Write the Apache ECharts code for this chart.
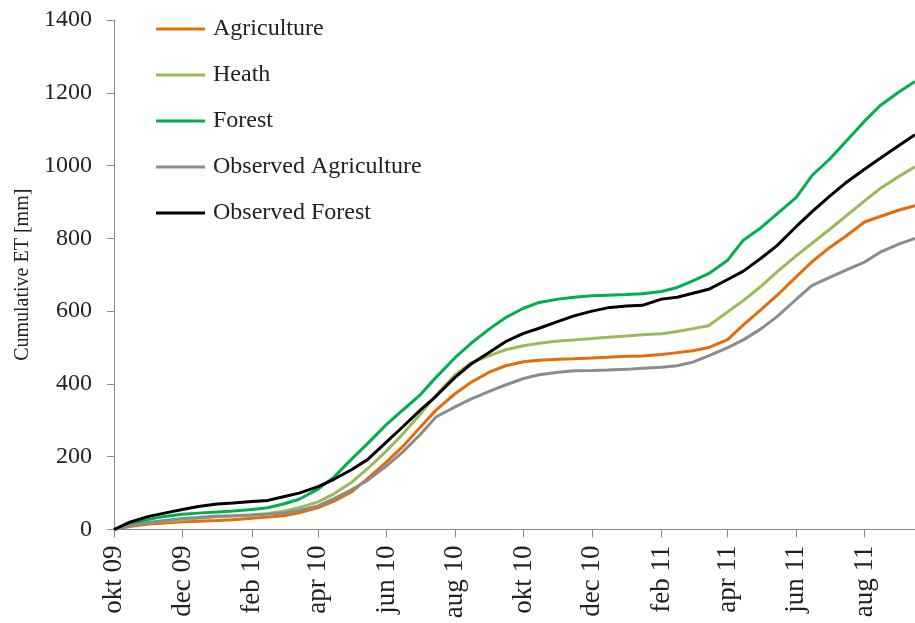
<!DOCTYPE html>
<html>
<head>
<meta charset="utf-8">
<script src="https://cdn.jsdelivr.net/npm/echarts@6/dist/echarts.min.js"></script>
<style>
  html, body { margin: 0; padding: 0; background: #fff; }
  #chart { width: 915px; height: 623px; }
</style>
</head>
<body>
<div id="chart"></div>
<script>
// Sample dates (1st and 15th of each month)
const sampleDates = [
  '2009-10-01','2009-10-15','2009-11-01','2009-11-15','2009-12-01','2009-12-15',
  '2010-01-01','2010-01-15','2010-02-01','2010-02-15','2010-03-01','2010-03-15',
  '2010-04-01','2010-04-15','2010-05-01','2010-05-15','2010-06-01','2010-06-15',
  '2010-07-01','2010-07-15','2010-08-01','2010-08-15','2010-09-01','2010-09-15',
  '2010-10-01','2010-10-15','2010-11-01','2010-11-15','2010-12-01','2010-12-15',
  '2011-01-01','2011-01-15','2011-02-01','2011-02-15','2011-03-01','2011-03-15',
  '2011-04-01','2011-04-15','2011-05-01','2011-05-15','2011-06-01','2011-06-15',
  '2011-07-01','2011-07-15','2011-08-01','2011-08-15','2011-09-01','2011-09-15'
];

// Cumulative evapotranspiration [mm]
const agriculture = [0,8,15,18,21,23,
  25,27,31,34,38,46,60,78,104,140,186,227,281,328,373,404,433,450,461,465,468,469,471,473,
  476,477,481,486,491,500,522,562,605,643,694,735,775,805,845,860,878,890];
const heath = [0,10,19,23,27,31,
  35,37,40,44,50,60,76,98,130,167,216,261,317,369,425,458,478,494,505,512,518,521,525,528,
  532,535,538,544,552,560,598,629,669,708,752,786,825,860,903,937,971,997];
const forest = [0,14,28,36,42,45,
  48,51,55,60,70,83,111,144,194,236,289,327,370,418,472,511,552,582,608,624,633,638,642,644,
  646,648,654,665,683,703,740,795,830,867,912,972,1018,1065,1122,1165,1203,1231];
const observedAgriculture = [0,10,19,25,30,33,
  37,38,40,42,45,52,65,85,110,135,175,212,261,309,337,358,380,397,415,425,432,436,437,438,
  440,443,446,450,460,477,500,521,552,585,632,670,693,712,735,762,785,800];
const observedForest = [0,20,36,45,55,63,
  70,73,77,80,90,100,118,138,165,192,241,281,328,366,418,454,488,516,539,553,572,587,600,609,
  614,616,633,638,649,660,687,710,746,780,832,873,916,952,990,1020,1056,1085];

// Axis tick dates and their labels
const tickDates = ['2009-10-01','2009-12-01','2010-02-01','2010-04-01','2010-06-01','2010-08-01',
  '2010-10-01','2010-12-01','2011-02-01','2011-04-01','2011-06-01','2011-08-01'];
const tickLabels = ['okt 09','dec 09','feb 10','apr 10','jun 10','aug 10',
  'okt 10','dec 10','feb 11','apr 11','jun 11','aug 11'];

const seriesNames = ['Agriculture','Heath','Forest','Observed Agriculture','Observed Forest'];
const seriesColors = ['#E46C0A','#9BBB59','#00B050','#8C8C8C','#000000'];
const seriesValues = [agriculture, heath, forest, observedAgriculture, observedForest];

// Daily category axis from first to last sample date
const days = [];
{
  const start = Date.UTC(2009, 9, 1), end = Date.UTC(2011, 8, 15);
  for (let t = start; t <= end; t += 86400000) {
    days.push(new Date(t).toISOString().slice(0, 10));
  }
}
const tickSet = new Set(tickDates);
const isTick = (i, v) => tickSet.has(v);

const serif = "'Liberation Serif', 'Times New Roman', serif";

const chart = echarts.init(document.getElementById('chart'), null, { renderer: 'canvas' });
chart.setOption({
  backgroundColor: '#ffffff',
  animation: false,
  grid: { left: 114, right: 0, top: 20, bottom: 93.5, containLabel: false },
  legend: {
    orient: 'vertical',
    left: 151,
    top: 12,
    icon: 'rect',
    itemWidth: 49,
    itemHeight: 3,
    itemGap: 22,
    textStyle: { fontFamily: serif, fontSize: 24, color: '#222', lineHeight: 24, padding: [0, 0, 0, 3] },
    data: seriesNames
  },
  xAxis: {
    type: 'category',
    data: days,
    boundaryGap: false,
    axisLine: { lineStyle: { color: '#8a8a8a', width: 1 } },
    axisTick: { show: true, interval: isTick, inside: false, length: 8, lineStyle: { color: '#8a8a8a' } },
    axisLabel: {
      interval: isTick,
      rotate: 90,
      margin: 16,
      fontFamily: serif,
      fontSize: 27,
      color: '#222',
      formatter: v => tickLabels[tickDates.indexOf(v)] || ''
    },
    splitLine: { show: false }
  },
  yAxis: {
    type: 'value',
    min: 0,
    max: 1400,
    interval: 200,
    name: 'Cumulative ET [mm]',
    nameLocation: 'middle',
    nameGap: 76,
    nameTextStyle: { fontFamily: serif, fontSize: 20, color: '#222' },
    axisLine: { show: true, lineStyle: { color: '#8a8a8a', width: 1 } },
    axisTick: { show: true, length: 7, lineStyle: { color: '#8a8a8a' } },
    axisLabel: { margin: 22, fontFamily: serif, fontSize: 24, color: '#222', formatter: v => String(v) },
    splitLine: { show: false }
  },
  series: seriesNames.map((name, k) => ({
    name: name,
    type: 'line',
    symbol: 'none',
    smooth: false,
    color: seriesColors[k],
    lineStyle: { width: 3, color: seriesColors[k] },
    data: sampleDates.map((d, i) => [d, seriesValues[k][i]])
  }))
});
</script>
</body>
</html>
